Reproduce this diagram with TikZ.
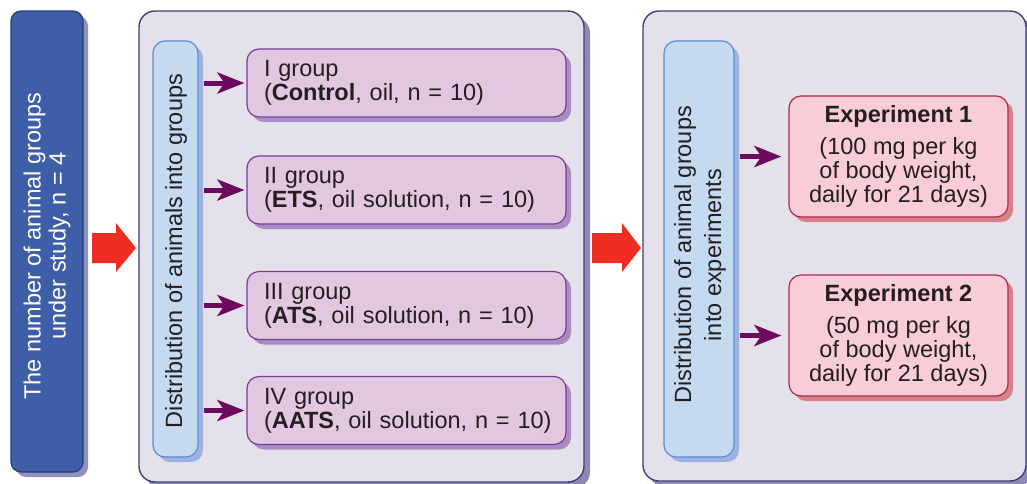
\documentclass[tikz,border=0pt]{standalone}
\usepackage{fontspec}
\setmainfont{Liberation Sans}
\usetikzlibrary{shadows,arrows.meta}
\definecolor{txt}{HTML}{231F20}
\definecolor{bluefill}{HTML}{3F5EA8}
\definecolor{blueline}{HTML}{263D7D}
\definecolor{blueshadow}{HTML}{8D92BE}
\definecolor{panelfill}{HTML}{E4E1EA}
\definecolor{panelline}{HTML}{3D3D80}
\definecolor{panelshadow}{HTML}{8C8AB4}
\definecolor{barfill}{HTML}{C5DAF1}
\definecolor{barline}{HTML}{5B8BD1}
\definecolor{barshadow}{HTML}{9EB2E0}
\definecolor{grpfill}{HTML}{E2C7E1}
\definecolor{grpline}{HTML}{7B3A96}
\definecolor{grpshadow}{HTML}{A98CC4}
\definecolor{expfill}{HTML}{F8CDD7}
\definecolor{expline}{HTML}{B3244E}
\definecolor{expshadow}{HTML}{D48489}
\definecolor{arrowc}{HTML}{6D0A5D}
\definecolor{redc}{HTML}{EE2E24}
\tikzset{
  mainfont/.style={font=\fontsize{23.5}{24}\selectfont, text=txt},
  shad/.style={drop shadow={shadow xshift=5pt,shadow yshift=-5pt,opacity=1,fill=#1}},
  bluebox/.style={draw=blueline, fill=bluefill, line width=1.2pt, rounded corners=10pt, shad=blueshadow, minimum width=72pt, minimum height=461pt},
  panel/.style={draw=panelline, fill=panelfill, line width=1.4pt, rounded corners=16pt, drop shadow={shadow xshift=6pt,shadow yshift=-6pt,opacity=1,fill=panelshadow}},
  bar/.style={draw=barline, fill=barfill, line width=1.2pt, rounded corners=12pt, shad=barshadow, minimum height=416pt},
  grp/.style={draw=grpline, fill=grpfill, line width=1.2pt, rounded corners=12pt, shad=grpshadow, minimum height=68pt, text width=285pt, inner xsep=17pt, align=left, mainfont},
  expbox/.style={draw=expline, fill=expfill, line width=1.2pt, rounded corners=12pt, shad=expshadow, minimum height=121pt, minimum width=219pt, align=center, mainfont},
  vtext/.style={rotate=90, align=center, mainfont},
  parrow/.style={draw=arrowc, line width=5pt, -{Stealth[length=27pt,width=21pt,inset=7pt]}},
  redarrow/.style={fill=redc}
}
\begin{document}
\begin{tikzpicture}[x=1pt,y=-1pt]
\useasboundingbox (0,0) rectangle (1027,483);

% main boxes
\node[bluebox] (blue) at (47,241.5) {};
\node[vtext, text=white, font=\fontsize{23.5}{25}\selectfont] (bluetext) at (47,246) {The number of animal groups\\under study, n = 4};

\node[panel, minimum width=445pt, minimum height=471pt] (panel1) at (361.5,246.5) {};
\node[panel, minimum width=383pt, minimum height=470pt] (panel2) at (834.5,246) {};

% bars
\node[bar, minimum width=45pt] (bar1) at (175.5,249) {};
\node[vtext] (bar1text) at (176,251) {Distribution of animals into groups};
\node[bar, minimum width=70pt] (bar2) at (699,249) {};
\node[vtext, font=\fontsize{23.5}{30}\selectfont] (bar2text) at (700,255) {Distribution of animal groups\\into experiments};

% groups
\node[grp] (g1) at (406.5,83) {I group\\\mbox{(\textbf{Control}, oil, n = 10)}};
\node[grp] (g2) at (406.5,190) {II group\\\mbox{(\textbf{ETS}, oil solution, n = 10)}};
\node[grp] (g3) at (406.5,305.5) {III group\\\mbox{(\textbf{ATS}, oil solution, n = 10)}};
\node[grp] (g4) at (406.5,410.5) {IV group\\\mbox{(\textbf{AATS}, oil solution, n = 10)}};

% experiments
\node[expbox] (e1) at (898.5,156.5) {\textbf{Experiment 1}\\[8pt](100 mg per kg\\of body weight,\\daily for 21 days)};
\node[expbox] (e2) at (898.5,335.5) {\textbf{Experiment 2}\\[8pt](50 mg per kg\\of body weight,\\daily for 21 days)};

% purple arrows
\foreach \g in {g1,g2,g3,g4}
  \draw[parrow, shorten <=5pt, shorten >=2pt] (bar1.east |- \g.west) -- (\g.west);
\foreach \e in {e1,e2}
  \draw[parrow, shorten <=5pt, shorten >=7pt] (bar2.east |- \e.west) -- (\e.west);

% red block arrows
\fill[redarrow] (92,233) -- (116,233) -- (116,223) -- (136,248) -- (116,272) -- (116,263) -- (92,263) -- cycle;
\fill[redarrow] (592,233) -- (622,233) -- (622,223) -- (641,248) -- (622,272) -- (622,263) -- (592,263) -- cycle;
\end{tikzpicture}
\end{document}
